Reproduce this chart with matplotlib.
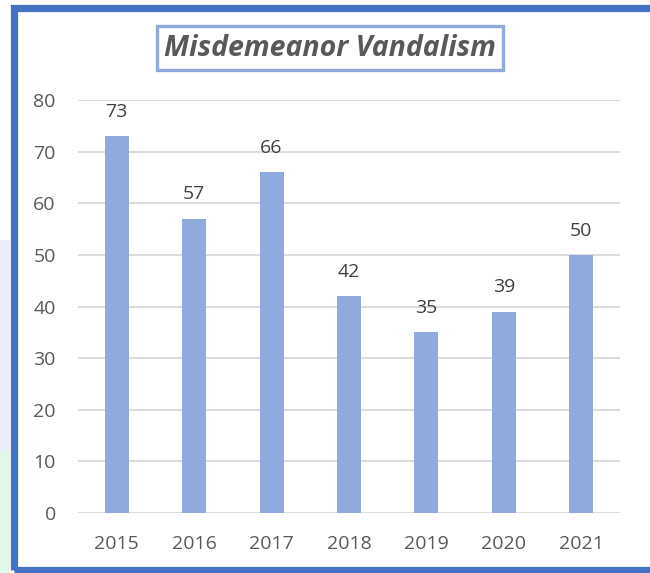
import matplotlib
matplotlib.use("Agg")
import matplotlib.pyplot as plt
from matplotlib.patches import Rectangle

years = ["2015", "2016", "2017", "2018", "2019", "2020", "2021"]
counts = [73, 57, 66, 42, 35, 39, 50]
title = "Misdemeanor Vandalism"

BAR = "#8FAADC"
BORDER = "#4472C4"
TXT = "#595959"
GRID = "#D9D9D9"

plt.rcParams["font.family"] = ["Open Sans", "DejaVu Sans"]

W, H = 650, 573
fig = plt.figure(figsize=(W / 100, H / 100), dpi=100)
fig.patch.set_facecolor("white")

# faint watermark strip left of the frame
fig.add_artist(Rectangle((0, 0.0), 10 / W, (H - 240) / H, transform=fig.transFigure,
                         fc="#ECECFC", ec="none", zorder=0))
fig.add_artist(Rectangle((0, 0.0), 10 / W, (H - 450) / H, transform=fig.transFigure,
                         fc="#E2F7EC", ec="none", zorder=0))

# chart frame
fig.add_artist(Rectangle((13.5 / W, 3 / H), (W - 13.5 + 10) / W, (H - 3 - 7.5) / H,
                         transform=fig.transFigure, fill=False, ec=BORDER, lw=5.2, zorder=5))

ax = fig.add_axes([78 / W, (H - 513) / H, (620 - 78) / W, (513 - 100) / H])
x = range(len(years))
ax.bar(x, counts, width=0.31, color=BAR, zorder=3)
for xi, v in zip(x, counts):
    ax.annotate(str(v), (xi, v), xytext=(0, 11), textcoords="offset points",
                ha="center", va="bottom", fontsize=14, color="#404040")

ax.set_xlim(-0.5, len(years) - 0.5)
ax.set_ylim(0, 80)
ax.set_yticks(range(0, 81, 10))
ax.set_xticks(list(x))
ax.set_xticklabels(years)
ax.tick_params(axis="both", length=0, labelsize=14, colors=TXT)
ax.tick_params(axis="x", pad=16)
ax.tick_params(axis="y", pad=16)
ax.grid(axis="y", color=GRID, lw=1.3, zorder=0)
for s in ax.spines.values():
    s.set_visible(False)

fig.text(330 / W, 1 - 48 / H, title, ha="center", va="center", fontsize=20.5,
         fontweight="bold", fontstyle="italic", color=TXT,
         bbox=dict(boxstyle="square,pad=0.25", fc="white", ec=BAR, lw=2.4))

fig.savefig("out.png", dpi=100)
